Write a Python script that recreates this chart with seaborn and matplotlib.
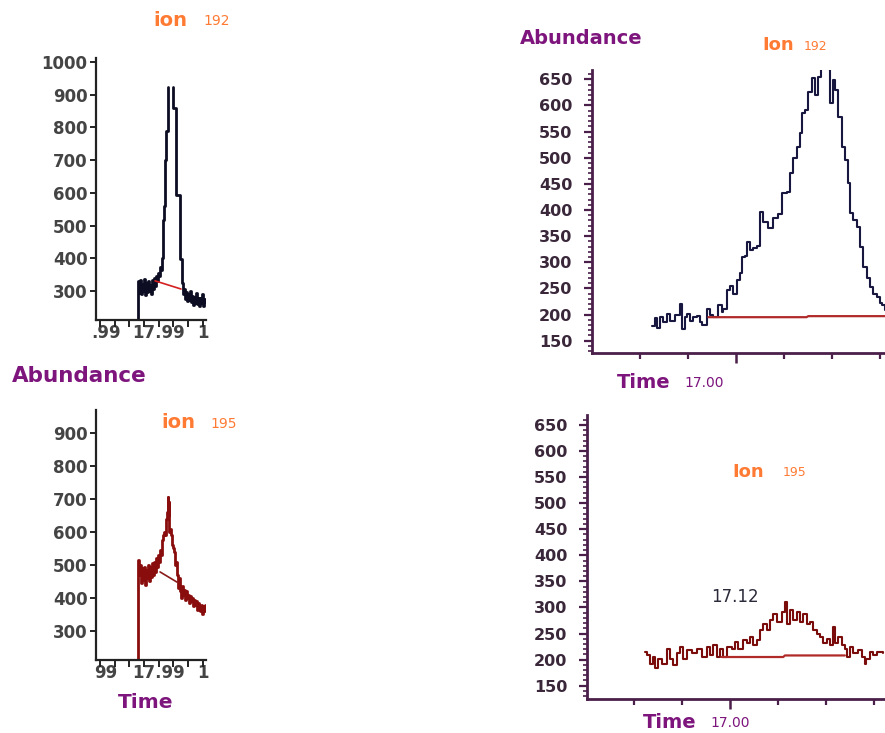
import numpy as np
import pandas as pd
import matplotlib
matplotlib.use("Agg")
import matplotlib.pyplot as plt
from matplotlib.ticker import FixedLocator, MultipleLocator
import seaborn as sns

sns.set_theme(style="white")
plt.rcParams["font.family"] = ["DejaVu Sans"]

W, H = 885, 733

# ---------------- ion 192, narrow-scale trace (upper left) ----------------
# rising side up to the clipped apex
ion192_rise_time = [16.9859, 16.9861, 16.9866, 16.9873, 16.9879, 16.9886, 16.9893, 16.9900,
                    16.9907, 16.9914, 16.9920, 16.9927, 16.9934, 16.9941, 16.9948, 16.9954,
                    16.9961, 16.9968, 16.9975, 16.9982, 16.9989, 16.9995, 17.0002, 17.0009,
                    17.0016, 17.0020, 17.0026, 17.0031, 17.0036, 17.0043, 17.0048, 17.0060]
ion192_rise_abund = [200, 330, 295, 335, 290, 320, 300, 338,
                     288, 325, 296, 330, 300, 318, 292, 335,
                     305, 340, 315, 345, 330, 355, 345, 372,
                     365, 402, 455, 516, 560, 700, 790, 925]
# falling side after the clipped apex
ion192_fall_time = [17.0097, 17.0100, 17.0121, 17.0142, 17.0156, 17.0166, 17.0173, 17.0180,
                    17.0186, 17.0193, 17.0200, 17.0207, 17.0214, 17.0220, 17.0227, 17.0234,
                    17.0241, 17.0248, 17.0254, 17.0261, 17.0268, 17.0275, 17.0282, 17.0289,
                    17.0295, 17.0302, 17.0309, 17.0316]
ion192_fall_abund = [925, 860, 592, 397, 325, 290, 305, 275,
                     298, 268, 290, 272, 300, 265, 285, 258,
                     282, 262, 295, 260, 280, 255, 278, 262,
                     290, 255, 275, 265]
ion192_base_time = [16.9975, 17.0152]
ion192_base_abund = [331, 306]

# ---------------- ion 195, narrow-scale trace (lower left) ----------------
ion195_time = [16.9859, 16.9861, 16.9866, 16.9873, 16.9879, 16.9886, 16.9893, 16.9900,
               16.9907, 16.9914, 16.9920, 16.9927, 16.9934, 16.9941, 16.9948, 16.9954,
               16.9961, 16.9968, 16.9975, 16.9982, 16.9989, 16.9995, 17.0002, 17.0009,
               17.0016, 17.0023, 17.0029, 17.0036, 17.0043, 17.0050, 17.0057, 17.0060,
               17.0064, 17.0067, 17.0070, 17.0077, 17.0084, 17.0091, 17.0098, 17.0104,
               17.0111, 17.0118, 17.0125, 17.0132, 17.0139, 17.0145, 17.0152, 17.0159,
               17.0166, 17.0173, 17.0180, 17.0186, 17.0193, 17.0200, 17.0207, 17.0214,
               17.0220, 17.0227, 17.0234, 17.0241, 17.0248, 17.0254, 17.0261, 17.0268,
               17.0275, 17.0282, 17.0289, 17.0295, 17.0302, 17.0309, 17.0316]
ion195_abund = [200, 515, 470, 500, 445, 490, 455, 495,
                440, 485, 460, 500, 450, 495, 465, 505,
                470, 510, 480, 520, 495, 530, 510, 545,
                530, 575, 590, 600, 590, 640, 660, 705,
                650, 690, 600, 610, 590, 560, 550, 540,
                500, 510, 470, 430, 460, 420, 400, 435,
                410, 425, 395, 420, 400, 410, 385, 405,
                390, 400, 375, 395, 380, 390, 365, 385,
                370, 360, 380, 350, 375, 360, 380]
ion195_base_time = [17.0009, 17.0125]
ion195_base_abund = [479, 448]

# ---------------- ion 192, expanded scale (upper right) ----------------
ion192x_time = [16.9649, 16.9663, 16.9669, 16.9683, 16.9697, 16.9711, 16.9725, 16.9746,
                16.9767, 16.9774, 16.9788, 16.9794, 16.9808, 16.9822, 16.9836, 16.9850,
                16.9857, 16.9878, 16.9892, 16.9906, 16.9926, 16.9940, 16.9947, 16.9961,
                16.9975, 16.9989, 17.0003, 17.0017, 17.0024, 17.0038, 17.0044, 17.0058,
                17.0072, 17.0086, 17.0100, 17.0114, 17.0135, 17.0156, 17.0176, 17.0190,
                17.0211, 17.0225, 17.0239, 17.0253, 17.0267, 17.0274, 17.0288, 17.0301,
                17.0315, 17.0329, 17.0343, 17.0353, 17.0367, 17.0385, 17.0392, 17.0403,
                17.0413, 17.0426, 17.0440, 17.0454, 17.0468, 17.0475, 17.0489, 17.0503,
                17.0517, 17.0531, 17.0544, 17.0558, 17.0572, 17.0586, 17.0600, 17.0607,
                17.0621]
ion192x_abund = [178, 193, 174, 195, 185, 202, 187, 200,
                 221, 173, 195, 202, 187, 195, 198, 185,
                 180, 210, 200, 195, 218, 205, 210, 247,
                 255, 240, 266, 280, 311, 312, 339, 324,
                 328, 332, 397, 378, 365, 384, 393, 432,
                 435, 470, 499, 521, 547, 585, 591, 626,
                 652, 620, 655, 690, 700, 670, 604, 648,
                 630, 578, 521, 496, 451, 394, 380, 368,
                 330, 291, 270, 253, 240, 234, 222, 218,
                 209]
ion192x_base_time = [16.9885, 17.0294, 17.0301, 17.0650]
ion192x_base_abund = [195, 195, 197, 197]

# ---------------- ion 195, expanded scale (lower right) ----------------
ion195x_time = [16.9646, 16.9653, 16.9667, 16.9681, 16.9688, 16.9701, 16.9715, 16.9736,
                16.9750, 16.9764, 16.9778, 16.9792, 16.9806, 16.9819, 16.9840, 16.9861,
                16.9882, 16.9903, 16.9917, 16.9931, 16.9944, 16.9958, 16.9972, 16.9986,
                17.0007, 17.0021, 17.0035, 17.0056, 17.0069, 17.0083, 17.0097, 17.0111,
                17.0125, 17.0139, 17.0153, 17.0167, 17.0181, 17.0194, 17.0215, 17.0229,
                17.0236, 17.0250, 17.0264, 17.0278, 17.0292, 17.0306, 17.0319, 17.0333,
                17.0347, 17.0361, 17.0375, 17.0389, 17.0403, 17.0417, 17.0431, 17.0438,
                17.0451, 17.0465, 17.0479, 17.0486, 17.0500, 17.0514, 17.0535, 17.0549,
                17.0563, 17.0569, 17.0583, 17.0597, 17.0611, 17.0639]
ion195x_abund = [215, 208, 192, 205, 183, 202, 192, 221,
                 202, 189, 212, 224, 202, 218, 212, 221,
                 205, 224, 208, 228, 205, 221, 205, 224,
                 221, 234, 221, 237, 231, 244, 228, 237,
                 256, 269, 256, 276, 288, 272, 292, 311,
                 269, 295, 276, 292, 272, 288, 269, 272,
                 256, 250, 244, 231, 240, 228, 263, 231,
                 244, 228, 221, 205, 224, 212, 218, 205,
                 192, 202, 215, 208, 215, 212]
ion195x_base_time = [16.9965, 17.0222, 17.0229, 17.0479]
ion195x_base_abund = [205, 205, 208, 208]
ion195x_apex_label = "17.12"

# axis tick values
narrow_ticks_192 = [1000, 900, 800, 700, 600, 500, 400, 300]
narrow_ticks_195 = [900, 800, 700, 600, 500, 400, 300]
narrow_time_marks = [16.96, 16.97, 16.98, 16.99, 17.00, 17.01, 17.02, 17.03]
narrow_time_label_pos = [16.9641, 17.00, 17.03]
narrow_time_labels_192 = [".99", "17.99", "1"]
narrow_time_labels_195 = ["99", "17.99", "1"]
wide_yticks = [650, 600, 550, 500, 450, 400, 350, 300, 250, 200, 150]
wide_time_marks = [16.96, 16.98, 17.02, 17.04, 17.06]

PURPLE = "#7d157d"
ORANGE = "#ff7a33"
AXGREY = "#222222"
LBLGREY = "#444444"
AXPURP = "#4a1f4a"
NAVY = "#17173f"
DKRED = "#7a0c0c"
BASE_RED = "#b02a2a"

fig = plt.figure(figsize=(W / 100, H / 100), dpi=100)
fig.patch.set_facecolor("white")


def px_axes(x0, x1, y_top, y_bot):
    return fig.add_axes([x0 / W, 1 - y_bot / H, (x1 - x0) / W, (y_bot - y_top) / H])


def trace_frame(segments):
    parts = []
    for i, (t, a) in enumerate(segments):
        parts.append(pd.DataFrame({"time": t, "abundance": a, "segment": i}))
    return pd.concat(parts, ignore_index=True)


def draw_trace(ax, segments, color, lw):
    df = trace_frame(segments)
    sns.lineplot(data=df, x="time", y="abundance", units="segment", estimator=None,
                 sort=False, color=color, lw=lw, drawstyle="steps-post", ax=ax)


def draw_base(ax, t, a, color, lw):
    sns.lineplot(x=t, y=a, sort=False, estimator=None, color=color, lw=lw, ax=ax)


def style_narrow(ax, ylim, yticks, xlabels):
    ax.set_xlim(16.9573, 17.0322)
    ax.set_ylim(*ylim)
    ax.set_xlabel("")
    ax.set_ylabel("")
    ax.set_facecolor("white")
    sns.despine(ax=ax)
    for s in ("left", "bottom"):
        ax.spines[s].set_color(AXGREY)
        ax.spines[s].set_linewidth(1.6)
    ax.yaxis.set_major_locator(FixedLocator(yticks))
    ax.set_yticklabels([str(v) for v in yticks], fontweight="bold")
    ax.tick_params(axis="y", which="major", direction="out", left=True, length=4, width=1.4,
                   color=AXGREY, pad=2, labelsize=12, labelcolor=LBLGREY)
    ax.xaxis.remove_overlapping_locs = False
    ax.xaxis.set_major_locator(FixedLocator(narrow_time_label_pos))
    ax.set_xticklabels(xlabels, fontweight="bold")
    ax.xaxis.set_minor_locator(FixedLocator(narrow_time_marks))
    ax.tick_params(axis="x", which="major", bottom=True, length=0, pad=3,
                   labelsize=12, labelcolor=LBLGREY)
    ax.tick_params(axis="x", which="minor", bottom=True, direction="out", length=5,
                   width=1.4, color=AXGREY)
    ax.grid(False)


def style_wide(ax, xlim, ylim):
    ax.set_xlim(*xlim)
    ax.set_ylim(*ylim)
    ax.set_xlabel("")
    ax.set_ylabel("")
    ax.set_facecolor("white")
    sns.despine(ax=ax)
    for s in ("left", "bottom"):
        ax.spines[s].set_color(AXPURP)
        ax.spines[s].set_linewidth(2)
    ax.yaxis.set_major_locator(FixedLocator(wide_yticks))
    ax.set_yticklabels([str(v) for v in wide_yticks], fontweight="bold")
    ax.yaxis.set_minor_locator(MultipleLocator(10))
    ax.tick_params(axis="y", which="major", direction="out", left=True, length=6, width=1.6,
                   color=AXPURP, pad=8, labelsize=11.5, labelcolor="#3a283a")
    ax.tick_params(axis="y", which="minor", direction="out", left=True, length=3, width=1.2,
                   color=AXPURP)
    ax.xaxis.set_major_locator(FixedLocator([17.00]))
    ax.xaxis.set_minor_locator(FixedLocator(wide_time_marks))
    ax.set_xticklabels([""])
    ax.tick_params(axis="x", which="major", direction="out", bottom=True, length=7, width=1.8,
                   color=AXPURP)
    ax.tick_params(axis="x", which="minor", direction="out", bottom=True, length=4, width=1.6,
                   color=AXPURP)
    ax.grid(False)


# upper left
ax1 = px_axes(96, 206, 58, 320)
draw_trace(ax1, [(ion192_rise_time, ion192_rise_abund),
                 (ion192_fall_time, ion192_fall_abund)], "#0c0c22", 2.0)
draw_base(ax1, ion192_base_time, ion192_base_abund, "#d42020", 1.2)
style_narrow(ax1, (211.3, 1012.2), narrow_ticks_192, narrow_time_labels_192)

# lower left
ax2 = px_axes(96, 206, 410, 660)
draw_trace(ax2, [(ion195_time, ion195_abund)], "#8a0d0d", 2.0)
draw_base(ax2, ion195_base_time, ion195_base_abund, "#8a1a1a", 1.2)
style_narrow(ax2, (212.1, 969.7), narrow_ticks_195, narrow_time_labels_195)

# upper right
ax3 = px_axes(592, 892, 70, 353)
draw_trace(ax3, [(ion192x_time, ion192x_abund)], NAVY, 1.5)
draw_base(ax3, ion192x_base_time, ion192x_base_abund, BASE_RED, 1.6)
style_wide(ax3, (16.94, 17.065), (126.5, 667.8))

# lower right
ax4 = px_axes(587, 890, 415, 699)
draw_trace(ax4, [(ion195x_time, ion195x_abund)], DKRED, 1.5)
draw_base(ax4, ion195x_base_time, ion195x_base_abund, BASE_RED, 1.6)
style_wide(ax4, (16.9404, 17.0667), (124.5, 669.0))
ax4.text(17.0021, 321, ion195x_apex_label, ha="center", va="center", fontsize=12,
         color="#2a2a3a")


def ftext(x, y, s, **kw):
    fig.text(x / W, 1 - y / H, s, va="center", **kw)


# panel captions
ftext(153, 20, "ion", color=ORANGE, fontsize=14, fontweight="bold")
ftext(203, 21, "192", color=ORANGE, fontsize=10)
ftext(12, 376, "Abundance", color=PURPLE, fontsize=15.5, fontweight="bold")
ftext(161, 423, "ion", color=ORANGE, fontsize=14, fontweight="bold")
ftext(210, 424, "195", color=ORANGE, fontsize=10)
ftext(118, 703, "Time", color=PURPLE, fontsize=14.5, fontweight="bold")

ftext(520, 38, "Abundance", color=PURPLE, fontsize=14, fontweight="bold")
ftext(762, 45, "Ion", color=ORANGE, fontsize=13, fontweight="bold")
ftext(804, 46, "192", color=ORANGE, fontsize=9)
ftext(617, 382, "Time", color=PURPLE, fontsize=14, fontweight="bold")
ftext(684, 383, "17.00", color=PURPLE, fontsize=10)

ftext(732, 472, "Ion", color=ORANGE, fontsize=13, fontweight="bold")
ftext(783, 473, "195", color=ORANGE, fontsize=9)
ftext(643, 722, "Time", color=PURPLE, fontsize=14, fontweight="bold")
ftext(710, 723, "17.00", color=PURPLE, fontsize=10)

fig.savefig("out.png", dpi=100, facecolor="white")
